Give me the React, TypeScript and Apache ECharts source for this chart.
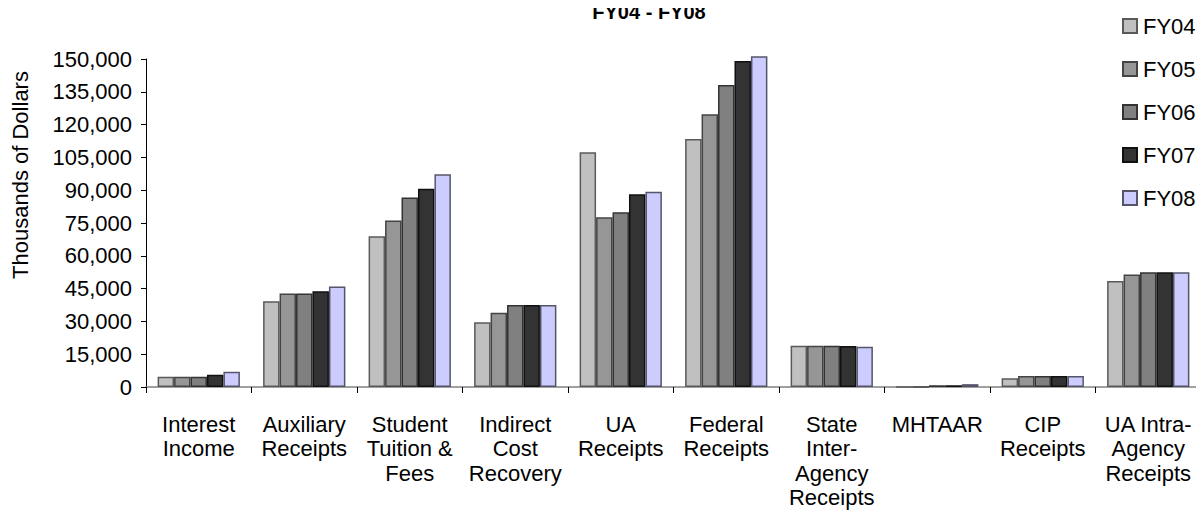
import React, { useEffect, useRef } from "react";
import * as echarts from "echarts";

const categories = [
  "Interest\nIncome",
  "Auxiliary\nReceipts",
  "Student\nTuition &\nFees",
  "Indirect\nCost\nRecovery",
  "UA\nReceipts",
  "Federal\nReceipts",
  "State\nInter-\nAgency\nReceipts",
  "MHTAAR",
  "CIP\nReceipts",
  "UA Intra-\nAgency\nReceipts",
];

const seriesNames = ["FY04", "FY05", "FY06", "FY07", "FY08"];

const fy04 = [4700, 39200, 68900, 29600, 107300, 113400, 18900, 0, 4000, 48500];
const fy05 = [4700, 42800, 76200, 34000, 77600, 124700, 18900, 0, 5000, 51500];
const fy06 = [4700, 42800, 86700, 37500, 79900, 138100, 18900, 800, 5000, 52500];
const fy07 = [5600, 43800, 90700, 37500, 88100, 149100, 18800, 800, 5000, 52500];
const fy08 = [7000, 46000, 97300, 37500, 89300, 151300, 18400, 1300, 5000, 52500];

const yTicks = { min: 0, max: 150000, interval: 15000 };

const FONT = "'Liberation Sans', Arial, sans-serif";

export default function App() {
  const ref = useRef<HTMLDivElement>(null);
  useEffect(() => {
    if (!ref.current) return;
    const chart = echarts.init(ref.current, null, { renderer: "svg" });
    const values = [fy04, fy05, fy06, fy07, fy08];
    const colors = ["#C0C0C0", "#969696", "#808080", "#333333", "#CCCCFF"];
    const borders = ["#5a5a5a", "#444444", "#333333", "#111111", "#55556a"];
    chart.setOption({
      animation: false,
      textStyle: { fontFamily: FONT, color: "#000" },
      grid: { left: 146, right: 3, top: 59, bottom: 134, containLabel: false },
      legend: {
        orient: "vertical",
        left: 1122,
        top: 15,
        padding: 0,
        itemWidth: 14,
        itemHeight: 14,
        itemGap: 21,
        icon: "rect",
        textStyle: { fontSize: 22, fontFamily: FONT, color: "#000", padding: [0, 0, 0, 1] },
        data: seriesNames,
      },
      graphic: [
        {
          type: "text",
          x: 649,
          y: 2,
          style: {
            text: "FY04 - FY08",
            font: `bold 20px ${FONT}`,
            fill: "#000",
            align: "center",
            verticalAlign: "top",
          },
        },
        {
          type: "text",
          x: 20,
          y: 175,
          rotation: Math.PI / 2,
          style: {
            text: "Thousands of Dollars",
            font: `22px ${FONT}`,
            fill: "#000",
            align: "center",
            verticalAlign: "middle",
          },
        },
      ],
      xAxis: {
        type: "category",
        data: categories,
        axisLine: { show: true, lineStyle: { color: "#808080", width: 1.5 } },
        axisTick: { show: true, length: 6, lineStyle: { color: "#000" } },
        axisLabel: {
          interval: 0,
          fontSize: 22,
          lineHeight: 24.5,
          margin: 25,
          color: "#000",
          fontFamily: FONT,
          align: "center",
        },
        splitLine: { show: false },
      },
      yAxis: {
        type: "value",
        min: yTicks.min,
        max: yTicks.max,
        interval: yTicks.interval,
        axisLine: { show: true, lineStyle: { color: "#000", width: 1 } },
        axisTick: { show: true, length: 5, lineStyle: { color: "#000" } },
        axisLabel: {
          fontSize: 22,
          margin: 14,
          color: "#000",
          fontFamily: FONT,
          formatter: (v: number) => v.toLocaleString("en-US"),
        },
        splitLine: { show: false },
      },
      series: seriesNames.map((name, i) => ({
        name,
        type: "bar",
        data: values[i],
        barGap: "0%",
        barCategoryGap: "22%",
        clip: false,
        itemStyle: { color: colors[i], borderColor: borders[i], borderWidth: 1.5 },
      })),
    });
    return () => chart.dispose();
  }, []);
  return <div ref={ref} style={{ width: 1204, height: 521, margin: -8 }} />;
}
